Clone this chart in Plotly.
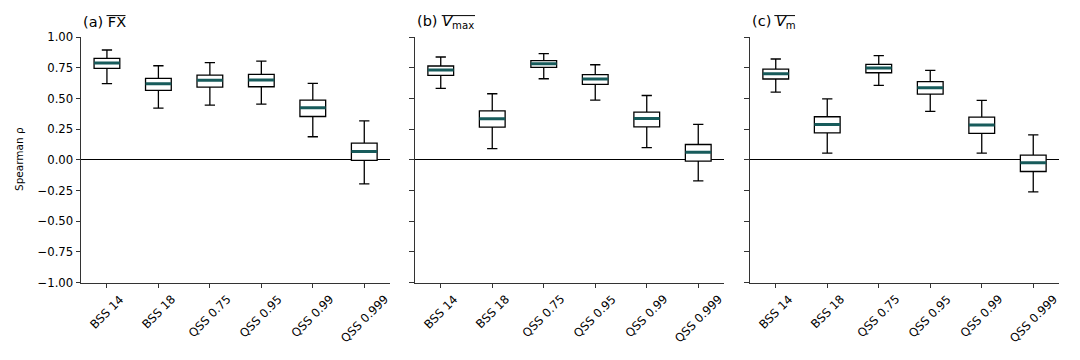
import plotly.graph_objects as go

categories = ["BSS 14", "BSS 18", "QSS 0.75", "QSS 0.95", "QSS 0.99", "QSS 0.999"]
y_ticks = [-1.0, -0.75, -0.5, -0.25, 0.0, 0.25, 0.5, 0.75, 1.0]
y_ticklabels = ["\u22121.00", "\u22120.75", "\u22120.50", "\u22120.25", "0.00", "0.25", "0.50", "0.75", "1.00"]

# Panel (a) FX
fx_low = [0.62, 0.421, 0.446, 0.454, 0.188, -0.196]
fx_q1 = [0.745, 0.565, 0.592, 0.595, 0.353, -0.005]
fx_med = [0.788, 0.62, 0.647, 0.649, 0.424, 0.068]
fx_q3 = [0.826, 0.663, 0.69, 0.696, 0.486, 0.136]
fx_high = [0.894, 0.766, 0.791, 0.804, 0.622, 0.318]

# Panel (b) Vmax
vmax_low = [0.582, 0.092, 0.66, 0.486, 0.10, -0.171]
vmax_q1 = [0.688, 0.266, 0.753, 0.614, 0.269, -0.011]
vmax_med = [0.731, 0.334, 0.783, 0.658, 0.337, 0.0625]
vmax_q3 = [0.764, 0.399, 0.807, 0.693, 0.389, 0.125]
vmax_high = [0.837, 0.538, 0.864, 0.774, 0.524, 0.288]

# Panel (c) Vm
vm_low = [0.552, 0.054, 0.606, 0.394, 0.054, -0.261]
vm_q1 = [0.658, 0.22, 0.709, 0.535, 0.215, -0.095]
vm_med = [0.701, 0.288, 0.747, 0.587, 0.283, -0.024]
vm_q3 = [0.739, 0.351, 0.777, 0.636, 0.348, 0.038]
vm_high = [0.821, 0.497, 0.848, 0.728, 0.484, 0.204]

panels = [
    (fx_low, fx_q1, fx_med, fx_q3, fx_high),
    (vmax_low, vmax_q1, vmax_med, vmax_q3, vmax_high),
    (vm_low, vm_q1, vm_med, vm_q3, vm_high),
]

positions = list(range(1, len(categories) + 1))
MEDIAN_COLOR = "#175b5b"
FONT = "DejaVu Sans"
TICK_SIZE = 11.7

W, H = 1080, 360
OFF = 8  # page body offset in pixels


def px_x(p):
    return (p - OFF) / W


def px_y(p):
    return 1 - (p - OFF) / H


x_domains = [(px_x(81.2), px_x(390)), (px_x(415), px_x(724)), (px_x(750), px_x(1059))]
y_domain = (px_y(282.7), px_y(37))

fig = go.Figure()
for i, (low, q1, med, q3, high) in enumerate(panels):
    xa = "x" if i == 0 else f"x{i+1}"
    ya = "y" if i == 0 else f"y{i+1}"
    fig.add_trace(go.Box(
        x=positions, q1=q1, median=med, q3=q3, lowerfence=low, upperfence=high,
        width=0.5, whiskerwidth=0.4, fillcolor="white",
        line=dict(color="black", width=1.3), boxpoints=False,
        xaxis=xa, yaxis=ya, showlegend=False, hoverinfo="skip",
    ))
    fig.add_trace(go.Box(
        x=positions, q1=med, median=med, q3=med, lowerfence=med, upperfence=med,
        width=0.5, whiskerwidth=0, fillcolor="rgba(0,0,0,0)",
        line=dict(color=MEDIAN_COLOR, width=3), boxpoints=False,
        xaxis=xa, yaxis=ya, showlegend=False, hoverinfo="skip",
    ))

layout = dict(
    width=W, height=H,
    margin=dict(l=0, r=0, t=0, b=0),
    paper_bgcolor="white", plot_bgcolor="white",
    font=dict(family=FONT, size=10, color="black"),
    boxmode="overlay",
)
for i in range(3):
    xk = "xaxis" if i == 0 else f"xaxis{i+1}"
    yk = "yaxis" if i == 0 else f"yaxis{i+1}"
    ya = "y" if i == 0 else f"y{i+1}"
    xa = "x" if i == 0 else f"x{i+1}"
    layout[xk] = dict(
        domain=list(x_domains[i]), anchor=ya, range=[0.5, 6.5], automargin=False,
        tickmode="array", tickvals=positions, showticklabels=False,
        ticks="outside", ticklen=4.5, tickwidth=1, tickcolor="#333",
        showline=True, linecolor="#333", linewidth=1.2, showgrid=False,
        zeroline=False,
    )
    layout[yk] = dict(
        domain=list(y_domain), anchor=xa, range=[-1.0, 1.0], automargin=False,
        tickmode="array", tickvals=y_ticks, ticktext=y_ticklabels,
        showticklabels=(i == 0),
        ticks="outside", ticklen=4.5, tickwidth=1, tickcolor="#333",
        showline=True, linecolor="#333", linewidth=1.2, showgrid=False,
        zeroline=True, zerolinecolor="black", zerolinewidth=1.2,
        tickfont=dict(family=FONT, size=TICK_SIZE, color="black"),
    )
fig.update_layout(**layout)

# rotated category labels, centred under each tick (matplotlib style)
for i in range(3):
    xa = "x" if i == 0 else f"x{i+1}"
    for pos, lab in zip(positions, categories):
        fig.add_annotation(
            text=lab, xref=xa, yref="paper", x=pos, y=px_y(291),
            xanchor="center", yanchor="top", textangle=-45, showarrow=False,
            borderpad=0, font=dict(family=FONT, size=TICK_SIZE, color="black"),
        )

# y axis title
fig.add_annotation(
    text="Spearman \u03c1", xref="paper", yref="paper", x=px_x(19), y=px_y(159),
    xanchor="center", yanchor="middle", textangle=-90, showarrow=False,
    font=dict(family=FONT, size=10.5, color="black"),
)

titles = ["(a) FX", "(b) <i>V</i><sub>max</sub>", "(c) <i>V</i><sub>m</sub>"]
for i, t in enumerate(titles):
    fig.add_annotation(
        text=t, xref="paper", yref="paper", x=x_domains[i][0], y=px_y(22),
        xanchor="left", yanchor="middle", showarrow=False,
        font=dict(family=FONT, size=14.5, color="black"),
    )

overlines = [(106.5, 125.5), (441.7, 475), (774.3, 795)]
for x0, x1 in overlines:
    fig.add_shape(type="line", xref="paper", yref="paper",
                  x0=px_x(x0), x1=px_x(x1), y0=px_y(15.6), y1=px_y(15.6),
                  line=dict(color="black", width=1))

fig.write_html("out.html")
